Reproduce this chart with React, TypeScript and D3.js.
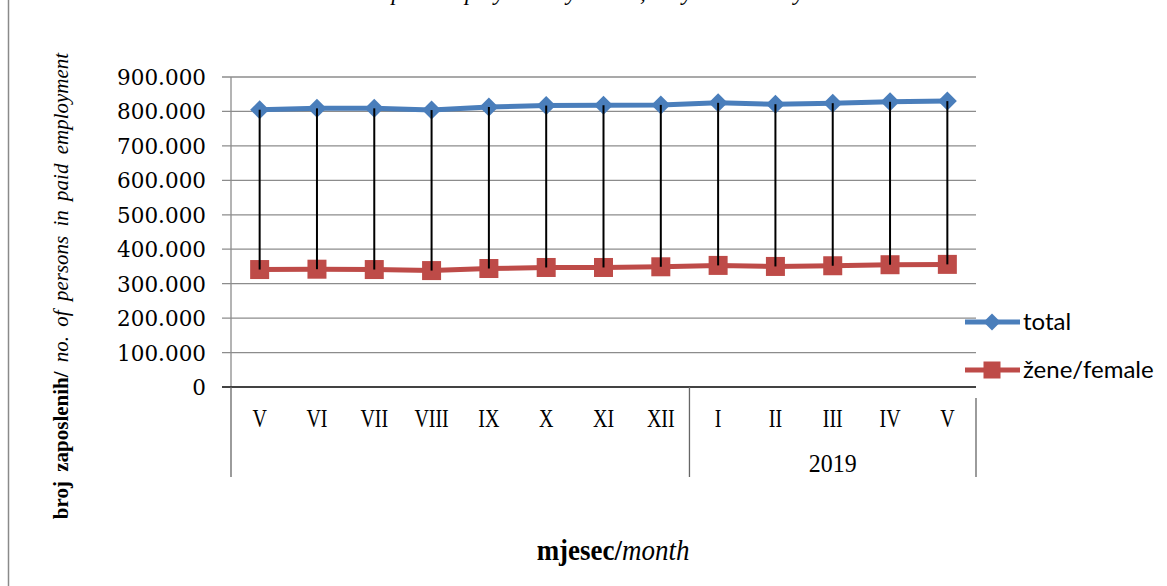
import * as d3 from "d3";
import React from "react";

// month labels (May 2018 - May 2019)
const months = ["V", "VI", "VII", "VIII", "IX", "X", "XI", "XII", "I", "II", "III", "IV", "V"];
const total = [805000, 809000, 809000, 804000, 813000, 817000, 818000, 819000, 825000, 821000, 824000, 828000, 830000];
const female = [341000, 342000, 341000, 338000, 344000, 347000, 347000, 349000, 353000, 350000, 352000, 355000, 356000];
const yTicks = [0, 100000, 200000, 300000, 400000, 500000, 600000, 700000, 800000, 900000];
const yearLabels = ["", "2019"];
const yearSpans = [[0, 8], [8, 13]];

const W = 1167;
const H = 586;
const left = 231;
const right = 976;
const top = 77;
const bottom = 387;

const BLUE = "#4A7EBB";
const RED = "#BE4B48";
const GRID = "#8C8C8C";

export default function App() {
    const idx = months.map((_, i) => i);
    const x = d3.scaleBand<number>().domain(idx).range([left, right]);
    const cx = (i: number) => (x(i) as number) + x.bandwidth() / 2;
    const y = d3.scaleLinear().domain([0, 900000]).range([bottom, top]);
    const fmt = (v: number) => (v === 0 ? "0" : d3.format(",")(v).replace(/,/g, "."));

    const totalLine = d3.line<number>().x((_, i) => cx(i)).y((d) => y(d))(total) as string;
    const femaleLine = d3.line<number>().x((_, i) => cx(i)).y((d) => y(d))(female) as string;

    const diamond = (px: number, py: number, r: number) =>
        `M${px},${py - r}L${px + r},${py}L${px},${py + r}L${px - r},${py}Z`;

    return (
        <div style={{ position: "fixed", left: 0, top: 0 }}>
            <svg width={W} height={H} style={{ display: "block", background: "#fff" }}>
                {/* chart border */}
                <rect x={8.5} y={-10} width={1300} height={H + 20} fill="none" stroke="#8A8A8A" strokeWidth={1.5} />

                {/* title, cut off at the top like the reference */}
                <text x={288} y={0} fontFamily="Liberation Serif" fontStyle="italic" fontSize={23} fill="#000">
                    Persons in paid employment by month, May 2018 - May 2019
                </text>

                {/* grid */}
                {yTicks.map((t) => (
                    <line key={t} x1={222} x2={right} y1={y(t)} y2={y(t)} stroke={GRID} strokeWidth={1.3} />
                ))}
                <line x1={left} x2={left} y1={top} y2={bottom} stroke={GRID} strokeWidth={1.3} />
                {yTicks.map((t) => (
                    <text key={t} x={206} y={y(t) + 8} textAnchor="end" fontFamily="DejaVu Serif" fontSize={21.5} fill="#000">
                        {fmt(t)}
                    </text>
                ))}

                {/* x axis */}
                <line x1={222} x2={right} y1={bottom} y2={bottom} stroke="#222" strokeWidth={1.3} />
                {months.map((m, i) => (
                    <text key={i} transform={`translate(${cx(i)},427) scale(0.8,1)`} textAnchor="middle" fontFamily="Liberation Serif" fontSize={25} fill="#000">
                        {m}
                    </text>
                ))}
                <line x1={left} x2={left} y1={bottom} y2={477} stroke="#666" strokeWidth={1.3} />
                <line x1={x(8) as number} x2={x(8) as number} y1={bottom} y2={477} stroke="#666" strokeWidth={1.3} />
                <line x1={right} x2={right} y1={398} y2={477} stroke="#666" strokeWidth={1.3} />
                {yearSpans.map(([a, b], k) => {
                    const mid = ((x(a) as number) + (x(b - 1) as number) + x.bandwidth()) / 2;
                    return (
                        <text key={k} transform={`translate(${mid},472) scale(0.92,1)`} textAnchor="middle" fontFamily="Liberation Serif" fontSize={26} fill="#000">
                            {yearLabels[k]}
                        </text>
                    );
                })}

                {/* series */}
                <path d={totalLine} fill="none" stroke={BLUE} strokeWidth={5} />
                <path d={femaleLine} fill="none" stroke={RED} strokeWidth={5} />
                {total.map((v, i) => (
                    <path key={i} d={diamond(cx(i), y(v), 9.5)} fill={BLUE} />
                ))}
                {female.map((v, i) => (
                    <rect key={i} x={cx(i) - 9.5} y={y(v) - 9.5} width={19} height={19} fill={RED} />
                ))}
                {/* drop lines */}
                {total.map((v, i) => (
                    <line key={i} x1={cx(i)} x2={cx(i)} y1={y(v)} y2={y(female[i])} stroke="#000" strokeWidth={2} />
                ))}

                {/* legend */}
                <line x1={965} x2={1020} y1={322} y2={322} stroke={BLUE} strokeWidth={5} />
                <path d={diamond(992, 322, 8.5)} fill={BLUE} />
                <text x={1023} y={330} fontFamily="Lato" fontSize={24} fill="#000">total</text>
                <line x1={965} x2={1020} y1={370} y2={370} stroke={RED} strokeWidth={5} />
                <rect x={983.5} y={361.5} width={17} height={17} fill={RED} />
                <text x={1023} y={378} fontFamily="Lato" fontSize={24} fill="#000">žene/female</text>

                {/* axis titles */}
                <text transform="translate(68,286) rotate(-90)" textAnchor="middle" fontFamily="Liberation Serif" fontSize={21} fill="#000" wordSpacing={4}>
                    <tspan fontWeight="bold">broj zaposlenih/</tspan>
                    <tspan fontStyle="italic"> no. of persons in paid employment</tspan>
                </text>
                <text transform="translate(613,560) scale(0.93,1)" textAnchor="middle" fontFamily="Liberation Serif" fontSize={29} fill="#000">
                    <tspan fontWeight="bold">mjesec/</tspan>
                    <tspan fontStyle="italic">month</tspan>
                </text>
            </svg>
        </div>
    );
}
